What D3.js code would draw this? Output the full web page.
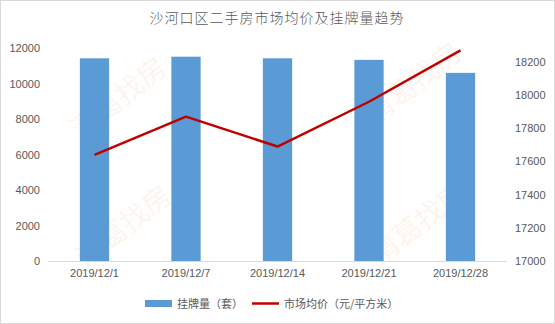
<!DOCTYPE html>
<html><head><meta charset="utf-8">
<script src="https://cdn.jsdelivr.net/npm/d3@7"></script>
<style>body{margin:0;background:#fff;}text{font-family:"Noto Sans CJK SC","Noto Sans",sans-serif;}</style>
</head><body>
<svg id="c" width="555" height="324"></svg>
<script>
const categories = ["2019/12/1","2019/12/7","2019/12/14","2019/12/21","2019/12/28"];
const listings = [11420, 11510, 11420, 11330, 10600];
const prices = [17640, 17870, 17690, 17960, 18270];
const leftTicks = [0,2000,4000,6000,8000,10000,12000];
const rightTicks = [17000,17200,17400,17600,17800,18000,18200];
const title = "沙河口区二手房市场均价及挂牌量趋势";
const legendLabels = ["挂牌量（套）","市场均价（元/平方米）"];
const watermark = "清葛找房";

const svg = d3.select("#c");
svg.append("rect").attr("x",0.5).attr("y",0.5).attr("width",554).attr("height",323)
  .attr("fill","#fff").attr("stroke","#d9d9d9");

const x = d3.scaleBand().domain(categories).range([48.75,506.25]).paddingInner(0.68).paddingOuter(0.34);
const yL = d3.scaleLinear().domain([0,12000]).range([261,48]);
const yR = d3.scaleLinear().domain([17000,18284]).range([261,48]);

// watermarks
[[120,100,28],[415,85,28],[125,228,28],[420,225,28]].forEach(([cx,cy,fs])=>{
  svg.append("text").attr("transform",`translate(${cx},${cy}) rotate(-38)`)
    .attr("text-anchor","middle").attr("dominant-baseline","middle")
    .attr("font-size",fs).attr("fill","#f8c9a0").attr("opacity",0.18).text(watermark);
});

svg.append("text").attr("x",277).attr("y",23).attr("text-anchor","middle")
  .attr("font-size",14).attr("font-weight",300).attr("fill","#595959").attr("letter-spacing",1).text(title);

// bars
svg.selectAll("rect.bar").data(listings).join("rect").attr("class","bar")
  .attr("x",(d,i)=>x(categories[i])).attr("width",x.bandwidth())
  .attr("y",d=>yL(d)).attr("height",d=>yL(0)-yL(d)).attr("fill","#5b9bd5");

// axes
const fmt = d3.format("d");
const gL = svg.append("g").attr("transform","translate(48,0)")
  .call(d3.axisLeft(yL).tickValues(leftTicks).tickFormat(fmt).tickSize(0).tickPadding(8));
const gR = svg.append("g").attr("transform","translate(507,0)")
  .call(d3.axisRight(yR).tickValues(rightTicks).tickFormat(fmt).tickSize(0).tickPadding(8));
const gB = svg.append("g").attr("transform","translate(0,261)")
  .call(d3.axisBottom(x).tickSize(0).tickPadding(8));
[gL,gR,gB].forEach(g=>{
  g.selectAll("text").attr("font-size",11).attr("fill","#595959").style("font-family","'Liberation Sans',sans-serif");
  g.select(".domain").remove();
});
svg.append("line").attr("x1",48).attr("x2",507).attr("y1",261.5).attr("y2",261.5).attr("stroke","#d9d9d9");

// line
const line = d3.line().x((d,i)=>x(categories[i])+x.bandwidth()/2).y(d=>yR(d));
svg.append("path").datum(prices).attr("d",line).attr("fill","none")
  .attr("stroke","#c00000").attr("stroke-width",2.5).attr("stroke-linejoin","round");

// legend
const lg = svg.append("g");
lg.append("rect").attr("x",145).attr("y",300).attr("width",27).attr("height",7).attr("fill","#5b9bd5");
lg.append("text").attr("x",177).attr("y",308).attr("font-size",11).attr("fill","#595959").text(legendLabels[0]);
lg.append("line").attr("x1",252).attr("x2",279).attr("y1",303.5).attr("y2",303.5).attr("stroke","#c00000").attr("stroke-width",2.5);
lg.append("text").attr("x",284).attr("y",308).attr("font-size",11).attr("fill","#595959").text(legendLabels[1]);
</script>
</body></html>
